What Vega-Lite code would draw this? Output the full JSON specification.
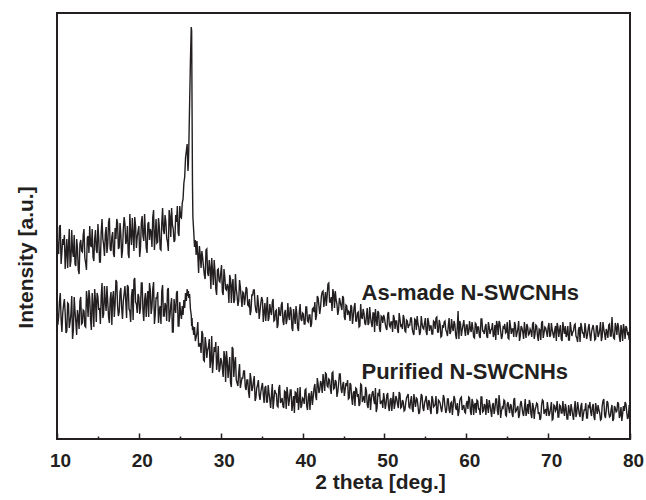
{
"$schema": "https://vega.github.io/schema/vega-lite/v6.json",
"width": 573, "height": 426,
"autosize": {"type": "none"},
"padding": {"left": 57, "top": 13, "right": 16, "bottom": 61},
"background": "white",
"config": {"view": {"stroke": "#231f20", "strokeWidth": 2}, "font": "Liberation Sans"},
"layer": [
{"data": {"values": [
{"x":10.0,"a":209,"p":134},{"x":10.2,"a":185,"p":122},{"x":10.4,"a":214,"p":146},{"x":10.6,"a":187,"p":107},{"x":10.8,"a":194,"p":134},
{"x":11.0,"a":170,"p":126},{"x":11.2,"a":200,"p":108},{"x":11.4,"a":192,"p":135},{"x":11.6,"a":172,"p":117},{"x":11.8,"a":209,"p":143},
{"x":12.0,"a":182,"p":109},{"x":12.2,"a":175,"p":128},{"x":12.4,"a":200,"p":104},{"x":12.6,"a":169,"p":122},{"x":12.8,"a":195,"p":138},
{"x":13.0,"a":188,"p":115},{"x":13.2,"a":204,"p":129},{"x":13.4,"a":181,"p":113},{"x":13.6,"a":169,"p":148},{"x":13.8,"a":203,"p":122},
{"x":14.0,"a":213,"p":141},{"x":14.2,"a":192,"p":109},{"x":14.4,"a":182,"p":133},{"x":14.6,"a":200,"p":150},{"x":14.8,"a":189,"p":117},
{"x":15.0,"a":215,"p":142},{"x":15.2,"a":177,"p":131},{"x":15.4,"a":207,"p":143},{"x":15.6,"a":200,"p":121},{"x":15.8,"a":183,"p":153},
{"x":16.0,"a":212,"p":128},{"x":16.2,"a":195,"p":137},{"x":16.4,"a":221,"p":116},{"x":16.6,"a":188,"p":147},{"x":16.8,"a":207,"p":141},
{"x":17.0,"a":182,"p":122},{"x":17.2,"a":200,"p":159},{"x":17.4,"a":216,"p":133},{"x":17.6,"a":192,"p":127},{"x":17.8,"a":205,"p":151},
{"x":18.0,"a":188,"p":120},{"x":18.2,"a":222,"p":145},{"x":18.4,"a":195,"p":138},{"x":18.6,"a":213,"p":154},{"x":18.8,"a":181,"p":130},
{"x":19.0,"a":205,"p":117},{"x":19.2,"a":221,"p":150},{"x":19.4,"a":188,"p":159},{"x":19.6,"a":213,"p":137},{"x":19.8,"a":202,"p":126},
{"x":20.0,"a":213,"p":142},{"x":20.2,"a":191,"p":131},{"x":20.4,"a":223,"p":156},{"x":20.6,"a":198,"p":118},{"x":20.8,"a":207,"p":146},
{"x":21.0,"a":186,"p":139},{"x":21.2,"a":217,"p":122},{"x":21.4,"a":210,"p":149},{"x":21.6,"a":192,"p":132},{"x":21.8,"a":229,"p":157},
{"x":22.0,"a":203,"p":124},{"x":22.2,"a":196,"p":141},{"x":22.4,"a":221,"p":116},{"x":22.6,"a":190,"p":133},{"x":22.8,"a":216,"p":148},
{"x":23.0,"a":209,"p":123},{"x":23.2,"a":224,"p":136},{"x":23.4,"a":201,"p":118},{"x":23.6,"a":188,"p":151},{"x":23.8,"a":222,"p":123},
{"x":24.0,"a":231,"p":141},{"x":24.2,"a":210,"p":107},{"x":24.4,"a":199,"p":131},{"x":24.6,"a":217,"p":146},{"x":24.8,"a":206,"p":113},
{"x":25.0,"a":233,"p":137},{"x":25.1,"a":222,"p":126},{"x":25.2,"a":221,"p":120},{"x":25.3,"a":236,"p":133},{"x":25.4,"a":240,"p":124},
{"x":25.5,"a":256,"p":139},{"x":25.6,"a":262,"p":131},{"x":25.7,"a":281,"p":146},{"x":25.8,"a":288,"p":138},{"x":25.9,"a":295,"p":150},
{"x":26.0,"a":268,"p":143},{"x":26.05,"a":275,"p":148},{"x":26.1,"a":290,"p":141},{"x":26.2,"a":335,"p":145},{"x":26.3,"a":378,"p":130},
{"x":26.4,"a":412,"p":124},{"x":26.45,"a":408,"p":113},{"x":26.5,"a":330,"p":121},{"x":26.55,"a":255,"p":109},{"x":26.6,"a":222,"p":113},
{"x":26.7,"a":208,"p":104},{"x":26.8,"a":192,"p":112},{"x":26.9,"a":199,"p":98},{"x":27.0,"a":184,"p":102},
{"x":27.2,"a":184,"p":117},{"x":27.4,"a":193,"p":93},{"x":27.6,"a":171,"p":86},{"x":27.8,"a":181,"p":105},
{"x":28.0,"a":164,"p":78},{"x":28.2,"a":189,"p":95},{"x":28.4,"a":166,"p":89},{"x":28.6,"a":179,"p":100},{"x":28.8,"a":150,"p":79},
{"x":29.0,"a":168,"p":66},{"x":29.2,"a":179,"p":92},{"x":29.4,"a":150,"p":97},{"x":29.6,"a":169,"p":78},{"x":29.8,"a":158,"p":67},
{"x":30.0,"a":166,"p":81},{"x":30.2,"a":147,"p":71},{"x":30.4,"a":170,"p":88},{"x":30.6,"a":150,"p":57},{"x":30.8,"a":155,"p":78},
{"x":31.0,"a":136,"p":72},{"x":31.2,"a":160,"p":56},{"x":31.4,"a":154,"p":92},{"x":31.6,"a":136,"p":62},{"x":31.8,"a":165,"p":82},
{"x":32.0,"a":143,"p":56},{"x":32.2,"a":138,"p":66},{"x":32.4,"a":152,"p":51},{"x":32.6,"a":132,"p":61},{"x":32.8,"a":146,"p":68},
{"x":33.0,"a":141,"p":52},{"x":33.2,"a":150,"p":59},{"x":33.4,"a":133,"p":47},{"x":33.6,"a":124,"p":66},{"x":33.8,"a":144,"p":48},
{"x":34.0,"a":149,"p":58},{"x":34.2,"a":134,"p":38},{"x":34.4,"a":126,"p":51},{"x":34.6,"a":136,"p":59},{"x":34.8,"a":128,"p":39},
{"x":35.0,"a":142,"p":52},{"x":35.2,"a":117,"p":45},{"x":35.4,"a":136,"p":51},{"x":35.6,"a":130,"p":37},{"x":35.8,"a":118,"p":54},
{"x":36.0,"a":135,"p":39},{"x":36.2,"a":124,"p":44},{"x":36.4,"a":140,"p":30},{"x":36.6,"a":119,"p":49},{"x":36.8,"a":129,"p":45},
{"x":37.0,"a":114,"p":32},{"x":37.2,"a":125,"p":54},{"x":37.4,"a":134,"p":38},{"x":37.6,"a":118,"p":33},{"x":37.8,"a":126,"p":48},
{"x":38.0,"a":115,"p":30},{"x":38.2,"a":136,"p":44},{"x":38.4,"a":119,"p":40},{"x":38.6,"a":129,"p":49},{"x":38.8,"a":108,"p":35},
{"x":39.0,"a":123,"p":26},{"x":39.2,"a":133,"p":46},{"x":39.4,"a":111,"p":51},{"x":39.6,"a":127,"p":38},{"x":39.8,"a":120,"p":31},
{"x":40.0,"a":126,"p":41},{"x":40.2,"a":115,"p":35},{"x":40.4,"a":132,"p":50},{"x":40.6,"a":118,"p":29},{"x":40.8,"a":124,"p":46},
{"x":41.0,"a":112,"p":42},{"x":41.2,"a":130,"p":34},{"x":41.4,"a":127,"p":51},{"x":41.6,"a":119,"p":43},{"x":41.8,"a":143,"p":61},
{"x":42.0,"a":133,"p":46},{"x":42.2,"a":132,"p":58},{"x":42.4,"a":147,"p":46},{"x":42.6,"a":132,"p":57},{"x":42.8,"a":147,"p":66},
{"x":43.0,"a":143,"p":53},{"x":43.2,"a":156,"p":60},{"x":43.4,"a":137,"p":50},{"x":43.6,"a":128,"p":66},{"x":43.8,"a":145,"p":50},
{"x":44.0,"a":148,"p":59},{"x":44.2,"a":135,"p":42},{"x":44.4,"a":129,"p":55},{"x":44.6,"a":137,"p":65},{"x":44.8,"a":129,"p":46},
{"x":45.0,"a":141,"p":57},{"x":45.2,"a":119,"p":49},{"x":45.4,"a":133,"p":53},{"x":45.6,"a":128,"p":40},{"x":45.8,"a":118,"p":56},
{"x":46.0,"a":132,"p":41},{"x":46.2,"a":123,"p":46},{"x":46.4,"a":136,"p":33},{"x":46.6,"a":118,"p":50},{"x":46.8,"a":127,"p":45},
{"x":47.0,"a":113,"p":35},{"x":47.2,"a":122,"p":54},{"x":47.4,"a":130,"p":40},{"x":47.6,"a":116,"p":36},{"x":47.8,"a":123,"p":48},
{"x":48.0,"a":114,"p":31},{"x":48.2,"a":132,"p":45},{"x":48.4,"a":116,"p":40},{"x":48.6,"a":126,"p":48},{"x":48.8,"a":107,"p":35},
{"x":49.0,"a":120,"p":27},{"x":49.2,"a":128,"p":45},{"x":49.4,"a":110,"p":50},{"x":49.6,"a":123,"p":37},{"x":49.8,"a":116,"p":31},
{"x":50.0,"a":121,"p":40},{"x":50.2,"a":111,"p":35},{"x":50.4,"a":125,"p":46},{"x":50.6,"a":114,"p":28},{"x":50.8,"a":117,"p":41},
{"x":51.0,"a":107,"p":38},{"x":51.2,"a":121,"p":30},{"x":51.4,"a":118,"p":43},{"x":51.6,"a":109,"p":35},{"x":51.8,"a":126,"p":47},
{"x":52.0,"a":113,"p":31},{"x":52.2,"a":110,"p":39},{"x":52.4,"a":121,"p":28},{"x":52.6,"a":107,"p":36},{"x":52.8,"a":118,"p":43},
{"x":53.0,"a":114,"p":32},{"x":53.2,"a":121,"p":38},{"x":53.4,"a":110,"p":30},{"x":53.6,"a":104,"p":45},{"x":53.8,"a":119,"p":32},
{"x":54.0,"a":123,"p":40},{"x":54.2,"a":112,"p":25},{"x":54.4,"a":107,"p":36},{"x":54.6,"a":115,"p":43},{"x":54.8,"a":110,"p":28},
{"x":55.0,"a":121,"p":39},{"x":55.2,"a":104,"p":34},{"x":55.4,"a":117,"p":39},{"x":55.6,"a":113,"p":29},{"x":55.8,"a":105,"p":43},
{"x":56.0,"a":118,"p":32},{"x":56.2,"a":110,"p":35},{"x":56.4,"a":122,"p":25},{"x":56.6,"a":107,"p":39},{"x":56.8,"a":115,"p":36},
{"x":57.0,"a":103,"p":27},{"x":57.2,"a":111,"p":44},{"x":57.4,"a":118,"p":32},{"x":57.6,"a":107,"p":29},{"x":57.8,"a":113,"p":40},
{"x":58.0,"a":105,"p":26},{"x":58.2,"a":120,"p":37},{"x":58.4,"a":108,"p":33},{"x":58.6,"a":115,"p":40},{"x":58.8,"a":100,"p":29},
{"x":59.0,"a":128,"p":23},{"x":59.2,"a":118,"p":38},{"x":59.4,"a":103,"p":42},{"x":59.6,"a":114,"p":32},{"x":59.8,"a":109,"p":27},
{"x":60.0,"a":114,"p":35},{"x":60.2,"a":104,"p":30},{"x":60.4,"a":118,"p":41},{"x":60.6,"a":107,"p":24},{"x":60.8,"a":111,"p":37},
{"x":61.0,"a":101,"p":34},{"x":61.2,"a":115,"p":26},{"x":61.4,"a":112,"p":38},{"x":61.6,"a":103,"p":30},{"x":61.8,"a":120,"p":42},
{"x":62.0,"a":108,"p":27},{"x":62.2,"a":105,"p":35},{"x":62.4,"a":115,"p":24},{"x":62.6,"a":101,"p":32},{"x":62.8,"a":112,"p":39},
{"x":63.0,"a":109,"p":28},{"x":63.2,"a":116,"p":34},{"x":63.4,"a":105,"p":25},{"x":63.6,"a":99,"p":40},{"x":63.8,"a":114,"p":28},
{"x":64.0,"a":118,"p":44},{"x":64.2,"a":108,"p":21},{"x":64.4,"a":103,"p":32},{"x":64.6,"a":111,"p":39},{"x":64.8,"a":106,"p":24},
{"x":65.0,"a":117,"p":35},{"x":65.2,"a":100,"p":30},{"x":65.4,"a":113,"p":35},{"x":65.6,"a":110,"p":25},{"x":65.8,"a":102,"p":39},
{"x":66.0,"a":114,"p":27},{"x":66.2,"a":106,"p":31},{"x":66.4,"a":118,"p":21},{"x":66.6,"a":103,"p":35},{"x":66.8,"a":111,"p":32},
{"x":67.0,"a":100,"p":23},{"x":67.2,"a":108,"p":40},{"x":67.4,"a":115,"p":28},{"x":67.6,"a":104,"p":25},{"x":67.8,"a":110,"p":36},
{"x":68.0,"a":102,"p":21},{"x":68.2,"a":117,"p":32},{"x":68.4,"a":105,"p":29},{"x":68.6,"a":113,"p":36},{"x":68.8,"a":98,"p":25},
{"x":69.0,"a":109,"p":19},{"x":69.2,"a":116,"p":34},{"x":69.4,"a":101,"p":38},{"x":69.6,"a":112,"p":28},{"x":69.8,"a":107,"p":23},
{"x":70.0,"a":112,"p":31},{"x":70.2,"a":102,"p":26},{"x":70.4,"a":116,"p":37},{"x":70.6,"a":105,"p":20},{"x":70.8,"a":109,"p":33},
{"x":71.0,"a":98,"p":30},{"x":71.2,"a":112,"p":22},{"x":71.4,"a":109,"p":34},{"x":71.6,"a":100,"p":26},{"x":71.8,"a":117,"p":38},
{"x":72.0,"a":105,"p":23},{"x":72.2,"a":102,"p":31},{"x":72.4,"a":113,"p":20},{"x":72.6,"a":99,"p":28},{"x":72.8,"a":110,"p":35},
{"x":73.0,"a":107,"p":24},{"x":73.2,"a":114,"p":30},{"x":73.4,"a":103,"p":22},{"x":73.6,"a":97,"p":37},{"x":73.8,"a":112,"p":25},
{"x":74.0,"a":116,"p":33},{"x":74.2,"a":106,"p":18},{"x":74.4,"a":101,"p":29},{"x":74.6,"a":109,"p":36},{"x":74.8,"a":104,"p":21},
{"x":75.0,"a":115,"p":32},{"x":75.2,"a":98,"p":27},{"x":75.4,"a":111,"p":32},{"x":75.6,"a":108,"p":22},{"x":75.8,"a":100,"p":36},
{"x":76.0,"a":113,"p":25},{"x":76.2,"a":105,"p":29},{"x":76.4,"a":117,"p":19},{"x":76.6,"a":102,"p":33},{"x":76.8,"a":110,"p":40},
{"x":77.0,"a":99,"p":21},{"x":77.2,"a":107,"p":38},{"x":77.4,"a":114,"p":26},{"x":77.6,"a":103,"p":23},{"x":77.8,"a":122,"p":34},
{"x":78.0,"a":101,"p":20},{"x":78.2,"a":116,"p":31},{"x":78.4,"a":104,"p":28},{"x":78.6,"a":112,"p":35},{"x":78.8,"a":97,"p":24},
{"x":79.0,"a":108,"p":18},{"x":79.2,"a":115,"p":33},{"x":79.4,"a":100,"p":37},{"x":79.6,"a":111,"p":27},{"x":79.8,"a":106,"p":22},
{"x":80.0,"a":111,"p":30},
{"x":10.1,"a":188,"p":114},{"x":10.3,"a":212,"p":137},{"x":10.5,"a":175,"p":120},{"x":10.7,"a":200,"p":126},{"x":10.9,"a":204,"p":140},
{"x":11.1,"a":186,"p":106},{"x":11.3,"a":171,"p":136},{"x":11.5,"a":210,"p":111},{"x":11.7,"a":178,"p":125},{"x":11.9,"a":188,"p":100},
{"x":12.1,"a":204,"p":142},{"x":12.3,"a":173,"p":117},{"x":12.5,"a":191,"p":129},{"x":12.7,"a":165,"p":110},{"x":12.9,"a":199,"p":142},
{"x":13.1,"a":187,"p":116},{"x":13.3,"a":210,"p":128},{"x":13.5,"a":176,"p":112},{"x":13.7,"a":201,"p":139},{"x":13.9,"a":186,"p":149},
{"x":14.1,"a":194,"p":119},{"x":14.3,"a":210,"p":146},{"x":14.5,"a":178,"p":112},{"x":14.7,"a":209,"p":139},{"x":14.9,"a":186,"p":146},
{"x":15.1,"a":201,"p":129},{"x":15.3,"a":177,"p":115},{"x":15.5,"a":220,"p":156},{"x":15.7,"a":194,"p":125},{"x":15.9,"a":205,"p":137},
{"x":16.1,"a":186,"p":153},{"x":16.3,"a":217,"p":122},{"x":16.5,"a":190,"p":140},{"x":16.7,"a":202,"p":114},{"x":16.9,"a":185,"p":148},
{"x":17.1,"a":211,"p":135},{"x":17.3,"a":220,"p":157},{"x":17.5,"a":190,"p":123},{"x":17.7,"a":216,"p":147},{"x":17.9,"a":181,"p":131},
{"x":18.1,"a":209,"p":138},{"x":18.3,"a":215,"p":153},{"x":18.5,"a":198,"p":121},{"x":18.7,"a":185,"p":152},{"x":18.9,"a":225,"p":128},
{"x":19.1,"a":194,"p":143},{"x":19.3,"a":205,"p":119},{"x":19.5,"a":222,"p":161},{"x":19.7,"a":191,"p":135},{"x":19.9,"a":208,"p":145},
{"x":20.1,"a":182,"p":125},{"x":20.3,"a":216,"p":156},{"x":20.5,"a":203,"p":129},{"x":20.7,"a":225,"p":139},{"x":20.9,"a":191,"p":122},
{"x":21.1,"a":215,"p":148},{"x":21.3,"a":199,"p":156},{"x":21.5,"a":207,"p":125},{"x":21.7,"a":222,"p":150},{"x":21.9,"a":189,"p":115},
{"x":22.1,"a":220,"p":141},{"x":22.3,"a":197,"p":147},{"x":22.5,"a":212,"p":129},{"x":22.7,"a":189,"p":115},{"x":22.9,"a":231,"p":154},
{"x":23.1,"a":205,"p":123},{"x":23.3,"a":217,"p":133},{"x":23.5,"a":197,"p":149},{"x":23.7,"a":229,"p":117},{"x":23.9,"a":202,"p":134},
{"x":24.1,"a":214,"p":107},{"x":24.3,"a":197,"p":140},{"x":24.5,"a":224,"p":126},{"x":24.7,"a":233,"p":148},{"x":24.9,"a":203,"p":113},
{"x":27.1,"a":198,"p":106},{"x":27.3,"a":166,"p":93},{"x":27.5,"a":184,"p":96},{"x":27.7,"a":188,"p":108},{"x":27.9,"a":172,"p":79},
{"x":28.1,"a":160,"p":102},{"x":28.3,"a":190,"p":81},{"x":28.5,"a":163,"p":92},{"x":28.7,"a":171,"p":71},{"x":28.9,"a":181,"p":103},
{"x":29.1,"a":154,"p":79},{"x":29.3,"a":168,"p":87},{"x":29.5,"a":144,"p":69},{"x":29.7,"a":170,"p":93},{"x":29.9,"a":157,"p":70},
{"x":30.1,"a":174,"p":78},{"x":30.3,"a":144,"p":62},{"x":30.5,"a":162,"p":82},{"x":30.7,"a":149,"p":88},{"x":30.9,"a":152,"p":61},
{"x":31.1,"a":164,"p":82},{"x":31.3,"a":136,"p":52},{"x":31.5,"a":160,"p":90},{"x":31.7,"a":139,"p":76},{"x":31.9,"a":150,"p":59},
{"x":32.1,"a":133,"p":53},{"x":32.3,"a":159,"p":75},{"x":32.5,"a":141,"p":56},{"x":32.7,"a":147,"p":61},{"x":32.9,"a":134,"p":68},
{"x":33.1,"a":152,"p":49},{"x":33.3,"a":134,"p":59},{"x":33.5,"a":140,"p":41},{"x":33.7,"a":128,"p":60},{"x":33.9,"a":144,"p":51},
{"x":34.1,"a":149,"p":63},{"x":34.3,"a":128,"p":41},{"x":34.5,"a":144,"p":54},{"x":34.7,"a":120,"p":44},{"x":34.9,"a":136,"p":47},
{"x":35.1,"a":139,"p":56},{"x":35.3,"a":127,"p":36},{"x":35.5,"a":118,"p":53},{"x":35.7,"a":142,"p":37},{"x":35.9,"a":121,"p":46},
{"x":36.1,"a":128,"p":31},{"x":36.3,"a":137,"p":55},{"x":36.5,"a":118,"p":39},{"x":36.7,"a":128,"p":46},{"x":36.9,"a":111,"p":33},
{"x":37.1,"a":132,"p":51},{"x":37.3,"a":123,"p":36},{"x":37.5,"a":137,"p":41},{"x":37.7,"a":114,"p":31},{"x":37.9,"a":129,"p":47},
{"x":38.1,"a":119,"p":52},{"x":38.3,"a":123,"p":33},{"x":38.5,"a":132,"p":49},{"x":38.7,"a":111,"p":28},{"x":38.9,"a":130,"p":43},
{"x":39.1,"a":115,"p":47},{"x":39.3,"a":125,"p":36},{"x":39.5,"a":108,"p":29},{"x":39.7,"a":135,"p":52},{"x":39.9,"a":118,"p":34},
{"x":40.1,"a":125,"p":40},{"x":40.3,"a":115,"p":49},{"x":40.5,"a":132,"p":33},{"x":40.7,"a":117,"p":42},{"x":40.9,"a":124,"p":29},
{"x":41.1,"a":115,"p":48},{"x":41.3,"a":131,"p":42},{"x":41.5,"a":137,"p":55},{"x":41.7,"a":123,"p":39},{"x":41.9,"a":141,"p":55},
{"x":42.1,"a":125,"p":49},{"x":42.3,"a":143,"p":55},{"x":42.5,"a":148,"p":65},{"x":42.7,"a":140,"p":48},{"x":42.9,"a":133,"p":65},
{"x":43.1,"a":155,"p":52},{"x":43.3,"a":137,"p":59},{"x":43.5,"a":142,"p":45},{"x":43.7,"a":150,"p":67},{"x":43.9,"a":131,"p":51},
{"x":44.1,"a":139,"p":57},{"x":44.3,"a":124,"p":47},{"x":44.5,"a":141,"p":65},{"x":44.7,"a":133,"p":50},{"x":44.9,"a":143,"p":54},
{"x":45.1,"a":122,"p":43},{"x":45.3,"a":134,"p":56},{"x":45.5,"a":124,"p":59},{"x":45.7,"a":127,"p":41},{"x":45.9,"a":134,"p":54},
{"x":46.1,"a":115,"p":34},{"x":46.3,"a":132,"p":48},{"x":46.5,"a":118,"p":51},{"x":46.7,"a":126,"p":42},{"x":46.9,"a":112,"p":33},
{"x":47.1,"a":135,"p":55},{"x":47.3,"a":120,"p":37},{"x":47.5,"a":126,"p":43},{"x":47.7,"a":114,"p":52},{"x":47.9,"a":131,"p":34},
{"x":48.1,"a":116,"p":43},{"x":48.3,"a":122,"p":29},{"x":48.5,"a":112,"p":46},{"x":48.7,"a":126,"p":39},{"x":48.9,"a":130,"p":51},
{"x":49.1,"a":113,"p":31},{"x":49.3,"a":126,"p":44},{"x":49.5,"a":107,"p":35},{"x":49.7,"a":122,"p":38},{"x":49.9,"a":124,"p":46},
{"x":50.1,"a":115,"p":30},{"x":50.3,"a":109,"p":44},{"x":50.5,"a":127,"p":32},{"x":50.7,"a":112,"p":39},{"x":50.9,"a":117,"p":28},
{"x":51.1,"a":124,"p":47},{"x":51.3,"a":110,"p":35},{"x":51.5,"a":118,"p":40},{"x":51.7,"a":106,"p":31},{"x":51.9,"a":120,"p":45},
{"x":52.1,"a":114,"p":32},{"x":52.3,"a":124,"p":37},{"x":52.5,"a":108,"p":29},{"x":52.7,"a":119,"p":41},{"x":52.9,"a":111,"p":45},
{"x":53.1,"a":114,"p":31},{"x":53.3,"a":121,"p":43},{"x":53.5,"a":106,"p":27},{"x":53.7,"a":120,"p":38},{"x":53.9,"a":109,"p":41},
{"x":54.1,"a":115,"p":33},{"x":54.3,"a":104,"p":27},{"x":54.5,"a":123,"p":45},{"x":54.7,"a":111,"p":31},{"x":54.9,"a":116,"p":36},
{"x":55.1,"a":107,"p":43},{"x":55.3,"a":121,"p":29},{"x":55.5,"a":108,"p":37},{"x":55.7,"a":113,"p":25},{"x":55.9,"a":105,"p":40},
{"x":56.1,"a":117,"p":33},{"x":56.3,"a":121,"p":43},{"x":56.5,"a":107,"p":27},{"x":56.7,"a":119,"p":38},{"x":56.9,"a":102,"p":31},
{"x":57.1,"a":114,"p":34},{"x":57.3,"a":117,"p":41},{"x":57.5,"a":109,"p":26},{"x":57.7,"a":103,"p":40},{"x":57.9,"a":121,"p":29},
{"x":58.1,"a":107,"p":36},{"x":58.3,"a":112,"p":24},{"x":58.5,"a":118,"p":43},{"x":58.7,"a":104,"p":31},{"x":58.9,"a":112,"p":36},
{"x":59.1,"a":100,"p":27},{"x":59.3,"a":115,"p":41},{"x":59.5,"a":109,"p":29},{"x":59.7,"a":119,"p":34},{"x":59.9,"a":103,"p":26},
{"x":60.1,"a":114,"p":38},{"x":60.3,"a":107,"p":42},{"x":60.5,"a":110,"p":28},{"x":60.7,"a":117,"p":40},{"x":60.9,"a":102,"p":24},
{"x":61.1,"a":116,"p":36},{"x":61.3,"a":105,"p":39},{"x":61.5,"a":112,"p":30},{"x":61.7,"a":101,"p":24},{"x":61.9,"a":120,"p":42},
{"x":62.1,"a":108,"p":28},{"x":62.3,"a":112,"p":33},{"x":62.5,"a":103,"p":40},{"x":62.7,"a":117,"p":26},{"x":62.9,"a":105,"p":34},
{"x":63.1,"a":110,"p":22},{"x":63.3,"a":102,"p":36},{"x":63.5,"a":114,"p":30},{"x":63.7,"a":118,"p":40},{"x":63.9,"a":104,"p":24},
{"x":64.1,"a":116,"p":35},{"x":64.3,"a":100,"p":28},{"x":64.5,"a":112,"p":31},{"x":64.7,"a":115,"p":38},{"x":64.9,"a":107,"p":23},
{"x":65.1,"a":101,"p":37},{"x":65.3,"a":119,"p":26},{"x":65.5,"a":105,"p":33},{"x":65.7,"a":110,"p":22},{"x":65.9,"a":117,"p":41},
{"x":66.1,"a":102,"p":28},{"x":66.3,"a":110,"p":33},{"x":66.5,"a":98,"p":24},{"x":66.7,"a":113,"p":38},{"x":66.9,"a":107,"p":26},
{"x":67.1,"a":117,"p":31},{"x":67.3,"a":101,"p":23},{"x":67.5,"a":112,"p":35},{"x":67.7,"a":105,"p":39},{"x":67.9,"a":108,"p":25},
{"x":68.1,"a":115,"p":36},{"x":68.3,"a":100,"p":20},{"x":68.5,"a":114,"p":32},{"x":68.7,"a":103,"p":35},{"x":68.9,"a":110,"p":27},
{"x":69.1,"a":99,"p":21},{"x":69.3,"a":118,"p":39},{"x":69.5,"a":106,"p":25},{"x":69.7,"a":111,"p":30},{"x":69.9,"a":102,"p":37},
{"x":70.1,"a":116,"p":23},{"x":70.3,"a":104,"p":31},{"x":70.5,"a":109,"p":19},{"x":70.7,"a":101,"p":34},{"x":70.9,"a":113,"p":28},
{"x":71.1,"a":116,"p":38},{"x":71.3,"a":102,"p":22},{"x":71.5,"a":114,"p":33},{"x":71.7,"a":98,"p":26},{"x":71.9,"a":110,"p":28},
{"x":72.1,"a":113,"p":35},{"x":72.3,"a":105,"p":20},{"x":72.5,"a":99,"p":34},{"x":72.7,"a":117,"p":23},{"x":72.9,"a":103,"p":30},
{"x":73.1,"a":108,"p":19},{"x":73.3,"a":115,"p":38},{"x":73.5,"a":101,"p":26},{"x":73.7,"a":109,"p":31},{"x":73.9,"a":97,"p":22},
{"x":74.1,"a":112,"p":36},{"x":74.3,"a":106,"p":24},{"x":74.5,"a":116,"p":29},{"x":74.7,"a":100,"p":21},{"x":74.9,"a":111,"p":33},
{"x":75.1,"a":104,"p":37},{"x":75.3,"a":107,"p":23},{"x":75.5,"a":114,"p":35},{"x":75.7,"a":99,"p":19},{"x":75.9,"a":113,"p":31},
{"x":76.1,"a":102,"p":34},{"x":76.3,"a":109,"p":26},{"x":76.5,"a":98,"p":20},{"x":76.7,"a":117,"p":38},{"x":76.9,"a":105,"p":24},
{"x":77.1,"a":110,"p":29},{"x":77.3,"a":101,"p":36},{"x":77.5,"a":115,"p":22},{"x":77.7,"a":103,"p":30},{"x":77.9,"a":108,"p":18},
{"x":78.1,"a":100,"p":33},{"x":78.3,"a":112,"p":27},{"x":78.5,"a":116,"p":37},{"x":78.7,"a":102,"p":21},{"x":78.9,"a":114,"p":32},
{"x":79.1,"a":98,"p":25},{"x":79.3,"a":110,"p":28},{"x":79.5,"a":113,"p":35},{"x":79.7,"a":105,"p":20},{"x":79.9,"a":99,"p":34}
]},
"transform": [{"fold": ["a", "p"], "as": ["s", "v"]}],
"mark": {"type": "line", "color": "#231f20", "strokeWidth": 1.4, "clip": true},
"encoding": {
"x": {"field": "x", "type": "quantitative",
"scale": {"domain": [10, 80], "nice": false, "zero": false},
"axis": {"values": [10,15,20,25,30,35,40,45,50,55,60,65,70,75,80],
"labelExpr": "datum.value % 10 === 0 ? datum.label : ''",
"tickSize": {"condition": {"test": "datum.value % 10 === 0", "value": -6}, "value": -3},
"tickColor": "#231f20", "tickWidth": 1.5, "domain": false, "grid": false,
"labelFont": "Liberation Sans", "labelFontWeight": "bold", "labelFontSize": 19, "labelColor": "#231f20",
"labelPadding": 18, "labelOffset": 3, "labelFlush": false, "labelOverlap": false, "labelBaseline": "top",
"title": "2 theta [deg.]", "titleFont": "Liberation Sans", "titleFontWeight": "bold", "titleFontSize": 21, "titleColor": "#231f20",
"titleX": 323, "titleY": 49, "titleBaseline": "alphabetic", "titleAlign": "center"}},
"y": {"field": "v", "type": "quantitative",
"scale": {"domain": [0, 426], "nice": false},
"axis": {"title": "Intensity [a.u.]", "labels": false, "ticks": false, "domain": false, "grid": false,
"titleFont": "Liberation Sans", "titleFontWeight": "bold", "titleFontSize": 21, "titleColor": "#231f20",
"titleX": -25, "titleY": 244, "titleBaseline": "alphabetic", "titleAlign": "center", "titleAngle": 270}},
"detail": {"field": "s", "type": "nominal"}
}},
{"data": {"values": [{}]},
"mark": {"type": "text", "font": "Liberation Sans", "fontWeight": "bold", "fontSize": 22, "color": "#231f20", "align": "left", "baseline": "alphabetic"},
"encoding": {"x": {"datum": 47.2}, "y": {"datum": 139}, "text": {"value": "As-made N-SWCNHs"}}},
{"data": {"values": [{}]},
"mark": {"type": "text", "font": "Liberation Sans", "fontWeight": "bold", "fontSize": 22, "color": "#231f20", "align": "left", "baseline": "alphabetic"},
"encoding": {"x": {"datum": 47.2}, "y": {"datum": 60}, "text": {"value": "Purified N-SWCNHs"}}}
]
}
